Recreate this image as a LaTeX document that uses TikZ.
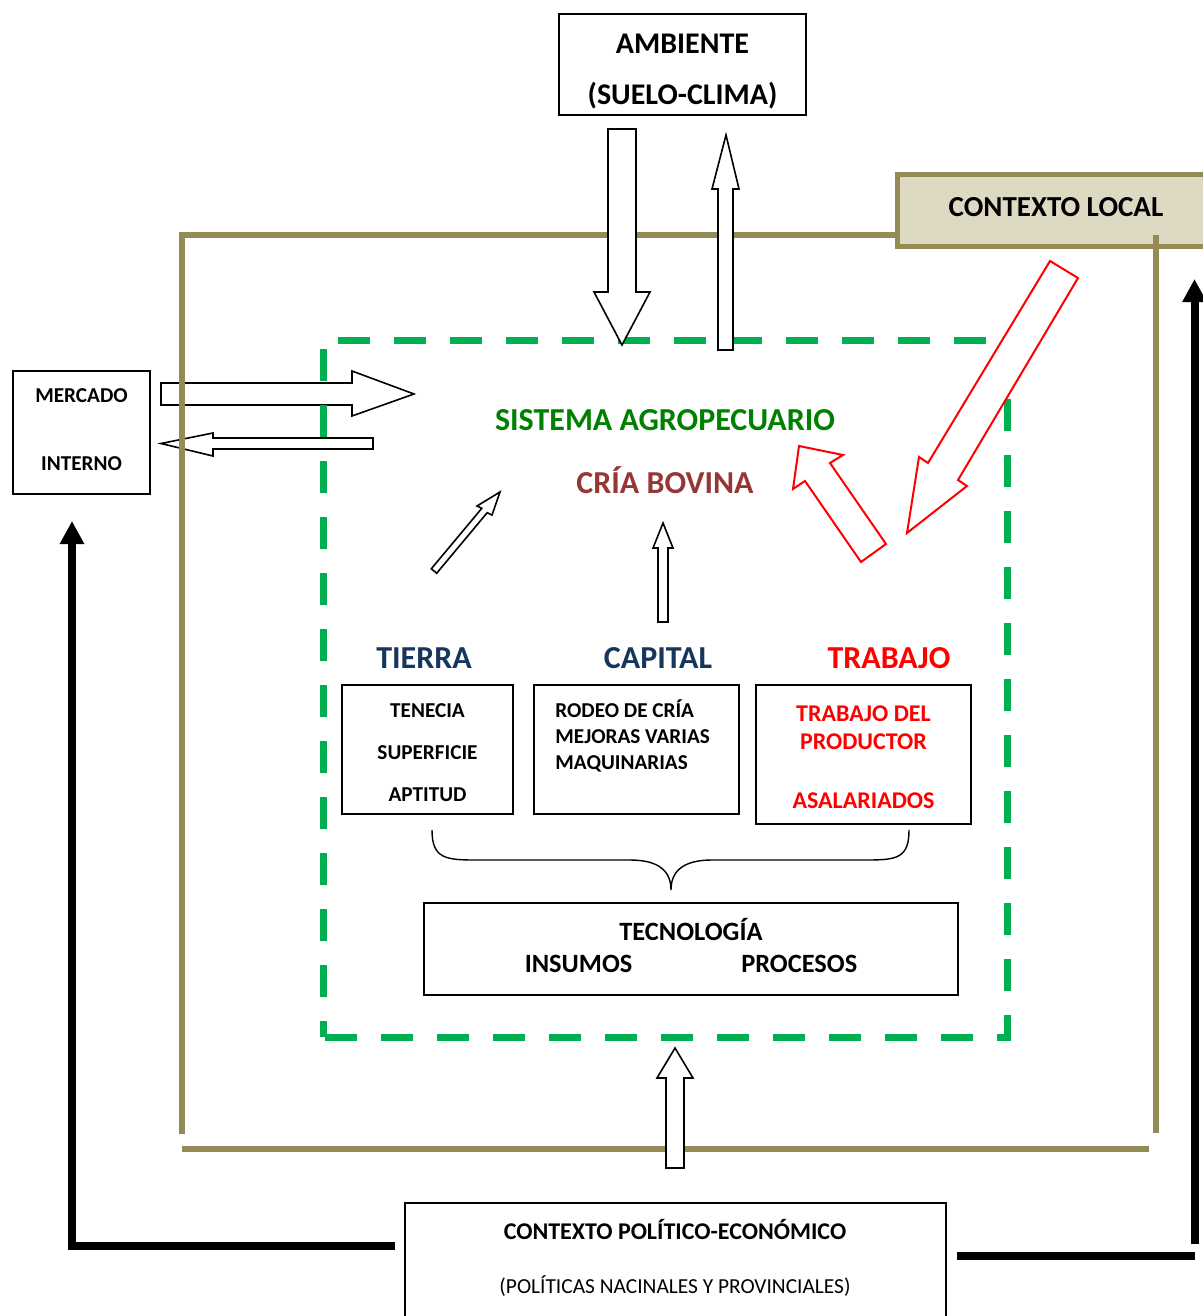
\documentclass[tikz,border=0pt]{standalone}
\usepackage{fontspec}
\setmainfont{Carlito}
\usetikzlibrary{arrows.meta}
\definecolor{olivegold}{HTML}{948A54}
\definecolor{beigefill}{HTML}{DDD9C3}
\definecolor{dashgreen}{HTML}{00B050}
\definecolor{sagreen}{HTML}{008000}
\definecolor{criared}{HTML}{953735}
\definecolor{navyblue}{HTML}{17365D}
\begin{document}
\begin{tikzpicture}[x=0.5pt,y=-0.5pt,
  box/.style={draw=black, line width=0.8pt, fill=white, inner sep=0pt},
  frameline/.style={draw=olivegold, line width=3pt, line cap=butt},
  blockarr/.style={draw=black, line width=0.8pt, fill=white, line join=miter},
  redarr/.style={draw=red, line width=1pt, fill=white, line join=miter},
  thickline/.style={draw=black, line width=4pt, line join=miter},
  bigtitle/.style={inner sep=0pt, font=\fontsize{16}{19}\selectfont\bfseries},
]
\useasboundingbox (0,0) rectangle (1203,1316);

% Mercado arrows (under the frame lines)
\draw[blockarr] (161,383) -- (352,383) -- (352,371) -- (414,394) -- (352,416) -- (352,405) -- (161,405) -- cycle;
\draw[blockarr] (373,438) -- (213,438) -- (213,433) -- (161,443.5) -- (213,456) -- (213,449) -- (373,449) -- cycle;

% Olive frame (contexto local)
\draw[frameline, line join=miter] (895,235) -- (182,235) -- (182,1134);
\draw[frameline] (182,1149) -- (1149,1149);

% Green dashed system boundary
\draw[draw=dashgreen, line width=3.5pt, dash pattern=on 16pt off 12pt, dash phase=8pt, line join=miter]
  (323,1037) -- (323,340) -- (1007,340) -- (1007,1037) -- cycle;

% Contexto local box
\node[draw=olivegold, line width=2.5pt, fill=beigefill, minimum width=159pt, minimum height=36pt,
      inner sep=0pt, font=\fontsize{14.5}{17}\selectfont\bfseries] (clocal) at (1056,211) {CONTEXTO LOCAL\rule[-4pt]{0pt}{0pt}};
\draw[frameline] (1156,235) -- (1156,1133);

% Ambiente
\node[box, minimum width=123.5pt, minimum height=50.5pt, align=center,
      font=\fontsize{15}{25.5}\selectfont\bfseries] (ambiente) at (682.5,64.5) {\rule{0pt}{17pt}AMBIENTE\\(SUELO-CLIMA)};
\draw[blockarr] (608,129) -- (636,129) -- (636,292) -- (650,292) -- (622,345) -- (594,292) -- (608,292) -- cycle;
\draw[blockarr] (718,350) -- (718,189) -- (712,189) -- (726,135) -- (739,189) -- (733,189) -- (733,350) -- cycle;

% Mercado interno
\node[box, minimum width=68.5pt, minimum height=61.5pt, align=center,
      font=\fontsize{10.6}{34}\selectfont\bfseries] (mercado) at (81.5,432.5) {MERCADO\\INTERNO\rule[-3pt]{0pt}{0pt}};

% Red arrows
\draw[redarr] (1050,261) -- (928,463) -- (919,457) -- (907,533) -- (967,486) -- (958,480) -- (1078,278) -- cycle;
\draw[redarr] (799,446) -- (843,455) -- (830,463) -- (886,544) -- (861,562) -- (805,481) -- (793,489) -- cycle;

% Small inner arrows
\draw[blockarr] (431.3,568.8) -- (481.8,508.3) -- (477,506) -- (500,492) -- (492,515) -- (487.2,512.7) -- (436.7,573.2) -- cycle;
\draw[blockarr] (658,622) -- (658,548) -- (653,548) -- (663,523) -- (673,548) -- (668,548) -- (668,622) -- cycle;

% Titles
\node[bigtitle, text=sagreen] (sistema) at (665,420) {SISTEMA AGROPECUARIO};
\node[bigtitle, text=criared] (cria) at (665,480) {CRÍA BOVINA};
\node[bigtitle, text=navyblue] (tierra) at (424,658) {TIERRA};
\node[bigtitle, text=navyblue] (capital) at (658,658) {CAPITAL};
\node[bigtitle, text=red] (trabajo) at (889,658) {TRABAJO};

% Factor boxes
\node[box, minimum width=85.5pt, minimum height=64.5pt, align=center,
      font=\fontsize{10.6}{21}\selectfont\bfseries] (tierrab) at (427.5,749.5) {\rule{0pt}{10pt}TENECIA\\SUPERFICIE\\APTITUD};
\node[box, minimum width=102.5pt, minimum height=64.5pt] (capitalb) at (636.5,749.5) {};
\node[inner sep=0pt, anchor=west, align=left, font=\fontsize{10.6}{13}\selectfont\bfseries] (capitaltxt)
      at (555,736) {RODEO DE CRÍA\\MEJORAS VARIAS\\MAQUINARIAS};
\node[box, minimum width=107.5pt, minimum height=69.5pt, align=center, text=red,
      font=\fontsize{12}{14}\selectfont\bfseries] (trabajob) at (863.5,754.5) {\rule{0pt}{11pt}TRABAJO DEL\\PRODUCTOR\\[15.5pt]ASALARIADOS};

% Brace
\coordinate (brl) at (432,830);
\coordinate (brr) at (909,830);
\coordinate (brtip) at (671,890);
\draw[line width=0.7pt] (brl) .. controls (432,858) and (445,860) .. (475,860) -- (630,860)
   .. controls (660,860) and (671,872) .. (brtip)
   .. controls (671,872) and (682,860) .. (712,860) -- (867,860)
   .. controls (897,860) and (909,858) .. (brr);

% Tecnologia
\node[box, minimum width=267pt, minimum height=46pt, align=center,
      font=\fontsize{13.2}{16}\selectfont\bfseries] (tecno) at (691,949) {TECNOLOG\'IA\\INSUMOS\hspace{54.5pt}PROCESOS\rule[-4pt]{0pt}{0pt}};

% Bottom up arrow
\draw[blockarr] (666,1168) -- (666,1078) -- (657,1078) -- (675,1048) -- (693,1078) -- (684,1078) -- (684,1168) -- cycle;

% Contexto politico-economico
\node[box, minimum width=270.5pt, minimum height=63.5pt] (politico) at (675.5,1266.5) {};
\node[inner sep=0pt, font=\fontsize{12}{14}\selectfont\bfseries] (poltitle) at (675,1229) {CONTEXTO POLÍTICO-ECONÓMICO};
\node[inner sep=0pt, font=\fontsize{10.7}{13}\selectfont] (polsub) at (675,1286) {(POLÍTICAS NACINALES Y PROVINCIALES)};

% Thick black connectors
\coordinate (lstart) at (395,1245.5);
\coordinate (lcorner) at (72,1245.5);
\coordinate (lend) at (72,521);
\draw[thickline, -{Triangle[length=11.5pt,width=11.5pt]}] (lstart) -- (lcorner) -- (lend);
\coordinate (rstart) at (957,1256);
\coordinate (rcorner) at (1194.5,1256);
\coordinate (rbottom) at (1194.5,1244);
\coordinate (rend) at (1194.5,279);
\draw[thickline] (rstart) -- (rcorner);
\draw[thickline, -{Triangle[length=11.5pt,width=11.5pt]}] (rbottom) -- (rend);
\end{tikzpicture}
\end{document}
